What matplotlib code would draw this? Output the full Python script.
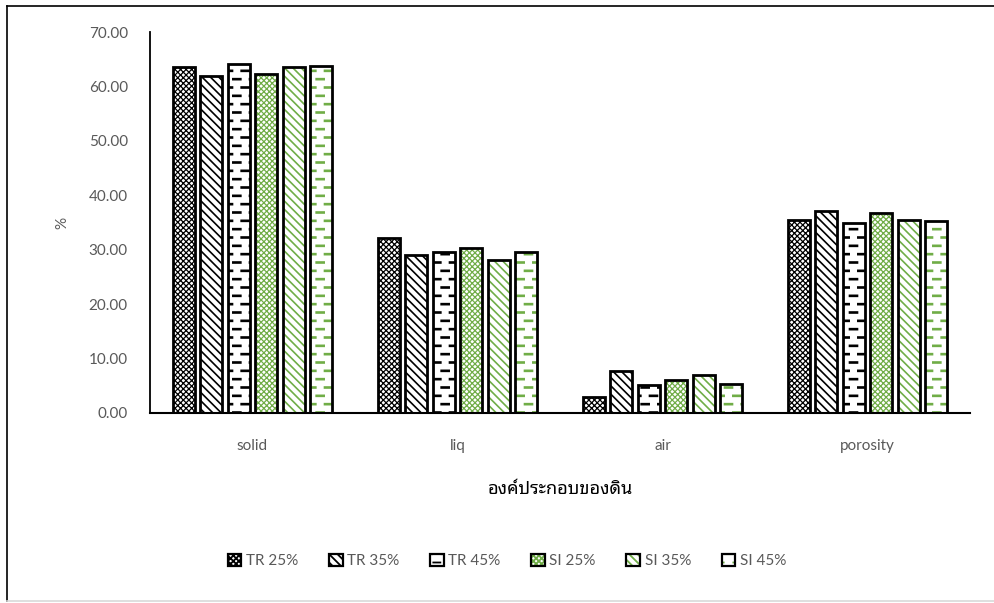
import warnings
warnings.filterwarnings("ignore")
import numpy as np
import matplotlib
matplotlib.use("Agg")
import matplotlib.pyplot as plt
from matplotlib import font_manager
from matplotlib.ft2font import FT2Font
from matplotlib.path import Path
from matplotlib.lines import Line2D
from matplotlib.patches import Patch
from matplotlib.legend_handler import HandlerTuple
import matplotlib.hatch as mhatch

# ---------------- data ----------------
categories = ["solid", "liq", "air", "porosity"]
series_names = ["TR 25%", "TR 35%", "TR 45%", "SI 25%", "SI 35%", "SI 45%"]
tr25 = [63.6, 32.2, 3.0, 35.5]
tr35 = [61.9, 29.0, 7.8, 37.2]
tr45 = [64.1, 29.5, 5.2, 35.0]
si25 = [62.3, 30.4, 6.1, 36.8]
si35 = [63.6, 28.2, 6.9, 35.5]
si45 = [63.8, 29.5, 5.4, 35.3]
yticks = [0, 10, 20, 30, 40, 50, 60, 70]
xlabel = "องค์ประกอบของดิน"
ylabel = "%"

# ---------------- custom "dashed horizontal" hatch ----------------
class DashHatch(mhatch.HatchPatternBase):
    def __init__(self, hatch, density):
        self.on = 'd' in hatch
        self.rows = 12
        self.cols = 6
        self.num_vertices = self.rows * self.cols * 2 if self.on else 0

    def set_vertices_and_codes(self, vertices, codes):
        k = 0
        for i in range(self.rows):
            y = (i + 0.5) / self.rows
            off = 0.0 if i % 2 == 0 else 0.5 / self.cols
            for j in range(self.cols):
                x0 = j / self.cols + off
                x1 = x0 + 0.42 / self.cols
                vertices[k] = (x0, y)
                vertices[k + 1] = (x1, y)
                codes[k] = Path.MOVETO
                codes[k + 1] = Path.LINETO
                k += 2

mhatch._hatch_types.append(DashHatch)

# ---------------- fonts ----------------
def find_thai_font():
    pref = ["Noto Sans Thai", "Noto Sans Thai UI", "Noto Sans Thai Looped", "Tlwg", "Loma", "Garuda", "Sarabun", "Kinnari", "Waree", "Laksaman"]
    cands = []
    for f in font_manager.fontManager.ttflist:
        try:
            ft = FT2Font(f.fname)
            cm = ft.get_charmap()
            if 0x0E2D in cm and 0x0E07 in cm:
                cands.append(f.name)
        except Exception:
            pass
    for p in pref:
        for c in cands:
            if c.startswith(p):
                return c
    return cands[0] if cands else None

thai = find_thai_font()
fam = ["Lato"] + ([thai] if thai else []) + ["DejaVu Sans"]
plt.rcParams["font.family"] = fam
plt.rcParams["hatch.linewidth"] = 1.3

GREEN = "#70AD47"
TXT = "#595959"
hatches = ["xxxxxx", "\\\\\\\\", "d", "xxxxxx", "\\\\\\\\", "d"]
hcolors = ["black", "black", "black", GREEN, GREEN, GREEN]
hlw = [0.9, 1.2, 1.9, 0.9, 1.2, 1.9]
values = [tr25, tr35, tr45, si25, si35, si45]

fig = plt.figure(figsize=(9.95, 6.03), dpi=100)
W, H = 995, 603
ax = fig.add_axes([150 / W, (H - 413) / H, 820 / W, (413 - 32) / H])

x = np.arange(len(categories))
slot = 0.134
bw = 0.107
for k, (vals, h, hc, lw) in enumerate(zip(values, hatches, hcolors, hlw)):
    pos = x + (k - 2.5) * slot
    bars = ax.bar(pos, vals, width=bw, color="white", edgecolor=hc, hatch=h, linewidth=0, zorder=2)
    for b in bars:
        if hasattr(b, "set_hatch_linewidth"):
            b.set_hatch_linewidth(lw)
    ax.bar(pos, vals, width=bw, fill=False, edgecolor="black", linewidth=2.0, zorder=3)

ax.set_xlim(-0.5, len(categories) - 0.5)
ax.set_ylim(0, 70)
ax.set_yticks(yticks)
ax.set_yticklabels([f"{v:.2f}" for v in yticks], color=TXT, fontsize=11)
ax.set_xticks(x)
ax.set_xticklabels(categories, color=TXT, fontsize=11)
ax.tick_params(axis="both", length=0)
ax.tick_params(axis="y", pad=16)
ax.tick_params(axis="x", pad=19)
for s in ["top", "right"]:
    ax.spines[s].set_visible(False)
ax.spines["left"].set_linewidth(1.3)
ax.spines["bottom"].set_linewidth(1.5)
ax.set_ylabel(ylabel, color=TXT, fontsize=11, labelpad=14)
ax.set_xlabel(xlabel, fontsize=13, fontweight="bold", color="black", labelpad=19)

handles = []
for h, hc, lw in zip(hatches, hcolors, hlw):
    p1 = Patch(facecolor="white", edgecolor=hc, hatch=h, linewidth=0)
    if hasattr(p1, "set_hatch_linewidth"):
        p1.set_hatch_linewidth(lw)
    p2 = Patch(fill=False, edgecolor="black", linewidth=1.6)
    handles.append((p1, p2))
fig.legend(handles, series_names, loc="center", bbox_to_anchor=(507 / W, (H - 561) / H),
           ncol=6, frameon=False, fontsize=11, handlelength=0.9, handleheight=0.9,
           columnspacing=2.0, handletextpad=0.3, labelcolor=TXT,
           handler_map={tuple: HandlerTuple(ndivide=1)})

# outer chart frame
fig.add_artist(Line2D([7 / W, 7 / W], [(H - 601) / H, (H - 6) / H], color="black", lw=1.2, transform=fig.transFigure))
fig.add_artist(Line2D([7 / W, 1.0], [(H - 6) / H, (H - 6) / H], color="black", lw=1.2, transform=fig.transFigure))
fig.add_artist(Line2D([7 / W, 1.0], [(H - 601) / H, (H - 601) / H], color="#d9d9d9", lw=1.2, transform=fig.transFigure))

fig.savefig("out.png", dpi=100)
